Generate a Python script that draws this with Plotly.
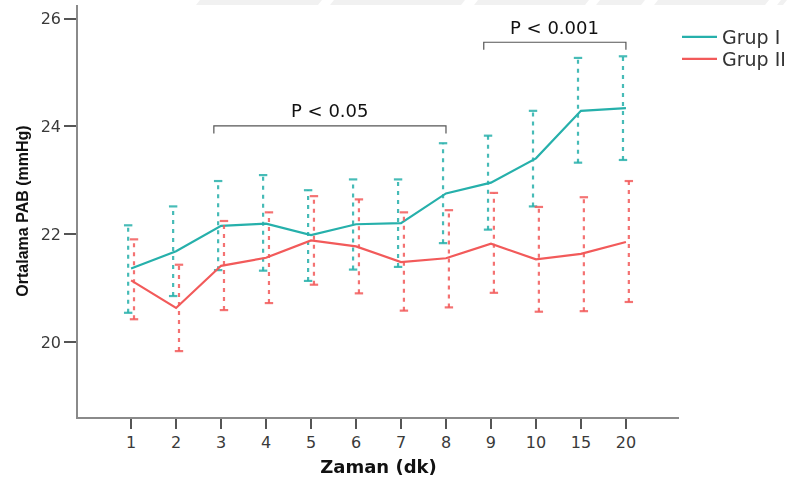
import plotly.graph_objects as go

# Time points (minutes) and group statistics for mean PAB (mmHg)
time_labels = ["1", "2", "3", "4", "5", "6", "7", "8", "9", "10", "15", "20"]

grup1_mean = [21.37, 21.69, 22.16, 22.20, 21.99, 22.19, 22.21, 22.76, 22.96, 23.41, 24.29, 24.34]
grup1_upper = [22.17, 22.52, 22.99, 23.10, 22.82, 23.02, 23.02, 23.69, 23.83, 24.29, 25.27, 25.30]
grup1_lower = [20.55, 20.86, 21.34, 21.33, 21.14, 21.35, 21.40, 21.84, 22.09, 22.52, 23.33, 23.38]

grup2_mean = [21.15, 20.64, 21.42, 21.57, 21.89, 21.78, 21.49, 21.56, 21.83, 21.54, 21.64, 21.86]
grup2_upper = [21.91, 21.44, 22.25, 22.41, 22.71, 22.65, 22.41, 22.45, 22.77, 22.51, 22.69, 22.99]
grup2_lower = [20.43, 19.84, 20.60, 20.73, 21.07, 20.91, 20.59, 20.65, 20.92, 20.57, 20.58, 20.75]

# Significance brackets: (first time label, last time label, bracket level, text)
brackets = [("3", "8", 24.01, "P < 0.05"), ("9", "20", 25.56, "P < 0.001")]

TEAL = "#26B0AB"
RED = "#F25A5A"
FONT = "DejaVu Sans"

W, H = 787, 480
ML, MR, MT, MB = 78, 108, 5, 63
PW, PH = W - ML - MR, H - MT - MB

idx = list(range(len(time_labels)))
fig = go.Figure()


def add_group(name, mean, upper, lower, color, shift, legend):
    # dotted interval bars, slightly offset so the two groups do not overlap
    xs, ys = [], []
    for i, lo, hi in zip(idx, lower, upper):
        xs += [i + shift, i + shift, None]
        ys += [lo, hi, None]
    fig.add_trace(go.Scatter(
        x=xs, y=ys, mode="lines", showlegend=False, hoverinfo="skip",
        line=dict(color=color, width=2.2, dash="4px,5px"), opacity=0.85))
    fig.add_trace(go.Scatter(
        x=[i + shift for i in idx] * 2, y=list(upper) + list(lower),
        mode="markers", showlegend=False, hoverinfo="skip",
        marker=dict(symbol="line-ew", size=6, line=dict(color=color, width=2.2)),
        opacity=0.85))
    fig.add_trace(go.Scatter(
        x=idx, y=mean, mode="lines", name=name, legend=legend,
        line=dict(color=color, width=2.2)))


add_group("Grup I", grup1_mean, grup1_upper, grup1_lower, TEAL, -0.065, "legend")
add_group("Grup II", grup2_mean, grup2_upper, grup2_lower, RED, 0.065, "legend2")

# significance brackets with their labels
for a, b, level, text in brackets:
    x0, x1 = time_labels.index(a) - 0.16, time_labels.index(b)
    drop = 0.14
    fig.add_trace(go.Scatter(
        x=[x0, x0, x1, x1], y=[level - drop, level, level, level - drop],
        mode="lines", showlegend=False, hoverinfo="skip",
        line=dict(color="#555555", width=1.2)))
    fig.add_annotation(x=(x0 + x1) / 2, y=level, yshift=15, text=text,
                       showarrow=False, font=dict(family=FONT, size=18, color="#111111"))

# faint light band along the top edge of the page
band_segments = [(200, 322), (334, 465), (478, 589), (600, 645), (658, 769), (781, 787)]
for p0, p1 in band_segments:
    fig.add_shape(type="path", xref="paper", yref="paper", layer="below",
                  path="M{:.4f},{:.4f} L{:.4f},{:.4f} L{:.4f},{:.4f} L{:.4f},{:.4f} Z".format(
                      (p0 - ML) / PW, 1 + MT / PH,
                      (p1 - ML) / PW, 1 + MT / PH,
                      (p1 - 4 - ML) / PW, 1 + (MT - 5) / PH,
                      (p0 - 4 - ML) / PW, 1 + (MT - 5) / PH),
                  fillcolor="#f1f1f1", line=dict(width=0))

axis_common = dict(showline=True, linecolor="#8a8a8a", linewidth=1.6, showgrid=False,
                   zeroline=False, ticks="outside", tickcolor="#555555", tickwidth=1.6,
                   tickfont=dict(family=FONT, size=16, color="#3a3a3a"))

legend_common = dict(xanchor="left", yanchor="middle", itemwidth=35,
                     font=dict(family=FONT, size=19, color="#333333"),
                     bgcolor="rgba(0,0,0,0)")

fig.update_layout(
    width=W, height=H,
    margin=dict(l=ML, r=MR, t=MT, b=MB, autoexpand=False),
    paper_bgcolor="white", plot_bgcolor="white",
    xaxis=dict(axis_common, range=[-1.18, 12.18], tickvals=idx, ticktext=time_labels,
               ticklen=10, automargin=False,
               title=dict(text="<b>Zaman (dk)</b>", standoff=9,
                          font=dict(family=FONT, size=18, color="#111111"))),
    yaxis=dict(axis_common, range=[18.62, 26.25], tickvals=[20, 22, 24, 26], ticklen=12,
               automargin=False,
               title=dict(text="<b>Ortalama PAB (mmHg)</b>", standoff=8,
                          font=dict(family="Liberation Sans", size=16, color="#111111"))),
    legend=dict(legend_common, x=(677 - ML) / PW, y=1 - (37 - MT) / PH),
    legend2=dict(legend_common, x=(677 - ML) / PW, y=1 - (59 - MT) / PH),
    showlegend=True,
)

fig.write_html("out.html")
